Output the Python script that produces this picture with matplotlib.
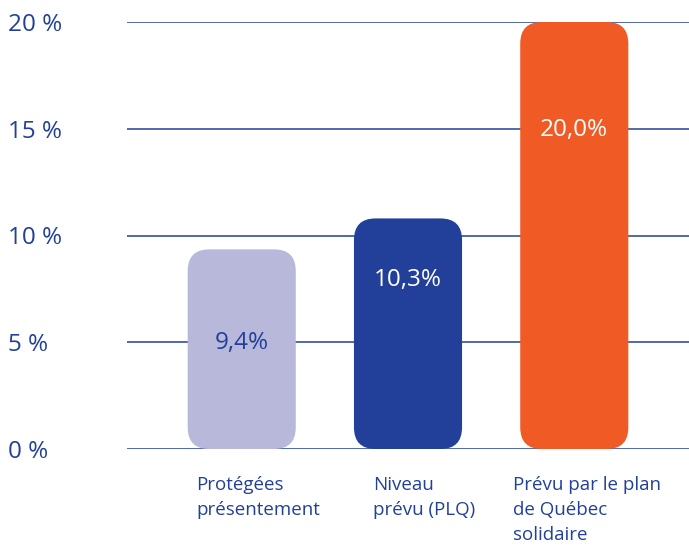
import matplotlib.pyplot as plt
from matplotlib.patches import FancyBboxPatch

categories = ["Protégées\nprésentement", "Niveau\nprévu (PLQ)", "Prévu par le plan\nde Québec\nsolidaire"]
values = [9.35, 10.8, 20.0]
value_labels = ["9,4%", "10,3%", "20,0%"]
yticks = [0, 5, 10, 15, 20]
ytick_labels = ["0 %", "5 %", "10 %", "15 %", "20 %"]

bar_colors = ["#b8b8db", "#22409a", "#ef5a25"]
text_colors = ["#22409a", "white", "white"]
label_y = [4.95, 7.9, 14.95]
cat_x_offset = [-0.275, -0.21, -0.37]

blue = "#22409a"
plt.rcParams["font.family"] = ["Open Sans", "DejaVu Sans"]

fig = plt.figure(figsize=(6.89, 5.46), dpi=100)
ax = fig.add_axes([127 / 689, 1 - 449 / 546, 1 - 127 / 689, (449 - 22) / 546])

x = list(range(len(values)))
bars = ax.bar(x, values, width=0.65, color=bar_colors)

ax.set_xlim(-0.69, 2.69)
ax.set_ylim(0, 20)

# px per data unit, for round corners that are circular on screen
aspect = (166.2) / (21.35)
for b, c in zip(bars, bar_colors):
    bx, by = b.get_x(), b.get_y()
    bw, bh = b.get_width(), b.get_height()
    patch = FancyBboxPatch((bx, by), bw, bh,
                           boxstyle="round,pad=0,rounding_size=0.13",
                           mutation_aspect=aspect,
                           facecolor=c, edgecolor="none", zorder=3)
    ax.add_patch(patch)
    b.remove()

for xi, ly, lab, tc in zip(x, label_y, value_labels, text_colors):
    ax.text(xi, ly, lab, ha="center", va="center", color=tc, fontsize=17.5, zorder=4)

for xi, off, cat in zip(x, cat_x_offset, categories):
    ax.text(xi + off, -1.25, cat, ha="left", va="top", color=blue,
            fontsize=13.5, linespacing=1.5)

ax.set_yticks(yticks)
ax.set_yticklabels(ytick_labels, fontsize=17.5, color=blue)
for lab in ax.get_yticklabels():
    lab.set_horizontalalignment("left")
ax.tick_params(axis="y", length=0, pad=86)
ax.set_xticks([])
ax.grid(axis="y", color=blue, linewidth=1.1, zorder=0)
ax.set_axisbelow(True)
for s in ax.spines.values():
    s.set_visible(False)

fig.savefig("out.png", dpi=100)
